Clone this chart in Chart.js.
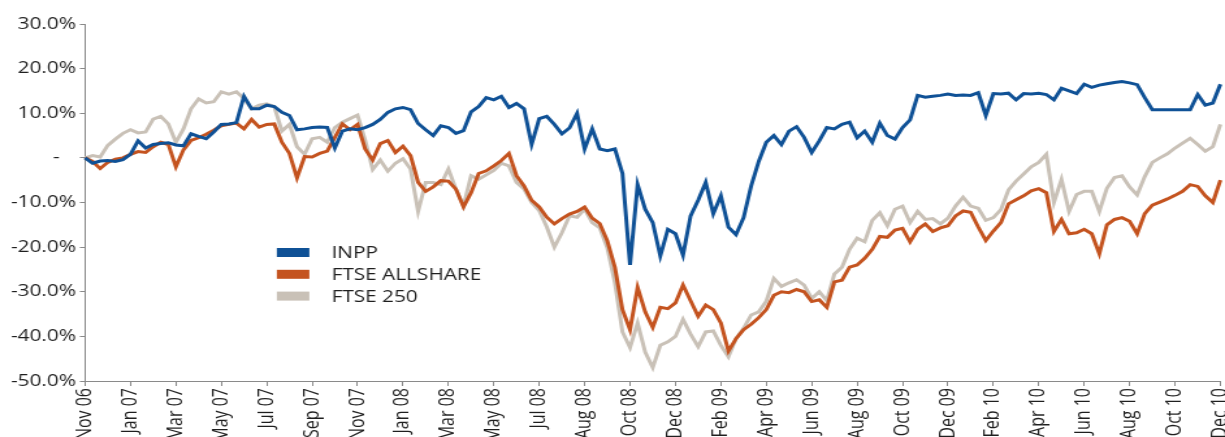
<!DOCTYPE html>
<html>
<head>
<meta charset="utf-8">
<title>INPP vs FTSE</title>
<script src="https://cdn.jsdelivr.net/npm/chart.js@4.4.1/dist/chart.umd.min.js"></script>
<style>
  html, body { margin: 0; padding: 0; background: #fff; overflow: hidden; }
  /* the chart is laid out narrow and stretched sideways to the full width */
  #wrap { width: 942px; height: 437px; transform: scaleX(1.3004); transform-origin: 0 0; }
</style>
</head>
<body>
<div id="wrap"><canvas id="grafico"></canvas></div>
<script>
// tick labels along the x axis, one every `pontosPorTick` points
const tickLabels = ['Nov 06', 'Jan 07', 'Mar 07', 'May 07', 'Jul 07', 'Sep 07', 'Nov 07', 'Jan 08',
    'Mar 08', 'May 08', 'Jul 08', 'Aug 08', 'Oct 08', 'Dec 08', 'Feb 09', 'Apr 09', 'Jun 09',
    'Aug 09', 'Oct 09', 'Dec 09', 'Feb 10', 'Apr 10', 'Jun 10', 'Aug 10', 'Oct 10', 'Dec 10'];
const pontosPorTick = 6;

const seriesNames = ['INPP', 'FTSE ALLSHARE', 'FTSE 250'];
const seriesColors = ['#0f5196', '#c4531f', '#c9c1b7'];

// cumulative return, %
const inpp = [
    0, -1.2, -0.7, -0.6, -0.8, -0.4, 0.8, 3.8, 2.2, 3.0, 3.2, 3.4,
    2.9, 2.7, 5.4, 4.8, 4.3, 5.8, 7.5, 7.6, 7.9, 13.8, 11.0, 11.0,
    11.8, 11.5, 10.2, 9.5, 6.3, 6.5, 6.8, 6.9, 6.8, 2.2, 6.0, 6.5,
    6.3, 6.8, 7.5, 8.6, 10.2, 11.0, 11.3, 10.8, 7.7, 6.3, 5.0, 7.2,
    6.8, 5.5, 6.1, 10.3, 11.5, 13.5, 13.0, 13.8, 11.3, 12.2, 11.0, 3.0,
    8.8, 9.3, 7.5, 5.4, 6.7, 10.0, 2.0, 6.5, 2.0, 1.6, 2.0, -3.5,
    -24.0, -6.0, -11.5, -14.5, -22.0, -16.0, -17.0, -21.8, -13.0, -9.5, -5.5, -12.5,
    -8.5, -15.5, -17.2, -13.4, -6.3, -0.8, 3.5, 5.0, 3.0, 6.0, 7.0, 4.6,
    1.2, 3.8, 6.8, 6.5, 7.5, 8.0, 4.5, 6.0, 3.5, 7.8, 5.0, 4.2,
    6.8, 8.5, 14.0, 13.6, 13.8, 14.0, 14.3, 14.0, 14.1, 14.0, 14.6, 9.5,
    14.4, 14.3, 14.5, 13.0, 14.4, 14.3, 14.5, 14.2, 13.0, 15.6, 15.0, 14.4,
    16.5, 15.8, 16.3, 16.6, 16.9, 17.1, 16.8, 16.4, 13.5, 10.8, 10.8, 10.8,
    10.8, 10.8, 10.8, 14.2, 11.8, 12.3, 16.5
];

const ftseAllShare = [
    0, -0.8, -2.4, -1.0, -0.3, 0.0, 0.8, 1.4, 1.2, 2.5, 3.5, 3.0,
    -2.0, 1.8, 3.9, 4.5, 5.3, 6.2, 7.2, 7.5, 7.8, 6.5, 8.6, 6.9,
    7.5, 7.6, 3.5, 1.0, -4.5, 0.3, 0.2, 1.0, 1.5, 4.6, 7.6, 6.3,
    7.5, 2.0, -0.5, 3.2, 3.9, 1.2, 2.6, 0.5, -5.5, -7.5, -6.5, -5.1,
    -5.2, -7.0, -11.0, -7.8, -3.5, -2.9, -1.8, -0.6, 1.0, -4.0, -6.3, -9.5,
    -11.0, -13.3, -14.8, -13.6, -12.6, -12.0, -11.0, -13.5, -14.7, -18.6, -24.5, -34.0,
    -38.5, -29.0, -34.5, -38.0, -33.5, -33.8, -32.5, -28.5, -32.0, -35.5, -33.0, -34.0,
    -37.0, -43.3, -40.5, -38.5, -37.3, -35.8, -34.0, -30.8, -30.0, -30.2, -29.5, -30.0,
    -32.2, -31.8, -33.5, -27.8, -27.4, -24.5, -24.0, -22.5, -20.5, -17.6, -17.8, -16.2,
    -15.8, -18.8, -16.0, -14.8, -16.5, -15.7, -15.2, -13.0, -11.9, -12.2, -15.5, -18.5,
    -16.4, -14.5, -10.3, -9.4, -8.5, -7.4, -6.9, -7.8, -16.5, -13.8, -17.0, -16.8,
    -16.0, -17.0, -21.5, -15.0, -13.8, -13.4, -14.2, -17.0, -12.5, -10.6, -9.9, -9.2,
    -8.4, -7.5, -6.0, -6.4, -8.5, -10.0, -5.0
];

const ftse250 = [
    0, 0.5, 0.2, 2.8, 4.2, 5.5, 6.3, 5.6, 5.8, 8.7, 9.3, 7.6,
    3.5, 6.5, 11.0, 13.2, 12.3, 12.6, 14.8, 14.3, 14.8, 13.3, 11.0, 11.8,
    12.1, 11.5, 6.0, 7.5, 2.5, 0.8, 4.3, 4.6, 3.5, 6.8, 8.0, 8.8,
    9.6, 4.0, -2.6, -0.5, -3.0, -1.2, -0.2, -2.5, -12.0, -5.5, -5.5, -6.0,
    -2.5, -7.0, -10.8, -4.0, -4.8, -3.8, -2.8, -1.2, -1.8, -5.5, -7.0, -10.0,
    -11.8, -15.5, -20.0, -16.8, -13.0, -13.3, -11.5, -14.5, -15.7, -20.2, -28.0, -39.0,
    -42.5, -37.0, -43.5, -47.0, -42.0, -41.2, -40.0, -36.2, -39.5, -42.3, -39.0, -38.8,
    -42.0, -44.6, -40.5, -38.2, -35.2, -34.5, -32.1, -27.0, -28.8, -28.0, -27.3, -28.5,
    -31.5, -30.0, -32.0, -26.0, -24.5, -20.5, -18.0, -18.8, -14.0, -12.3, -15.2, -11.5,
    -10.8, -14.5, -12.0, -13.8, -13.6, -14.8, -13.5, -10.8, -8.8, -10.8, -11.3, -14.0,
    -13.4, -11.6, -7.2, -5.2, -3.6, -2.0, -1.0, 0.8, -10.0, -4.8, -12.0, -8.2,
    -7.5, -7.5, -12.0, -6.8, -4.4, -4.0, -6.5, -8.3, -4.2, -1.0, 0.0, 0.9,
    2.2, 3.3, 4.4, 3.0, 1.5, 2.5, 7.5
];

const yTicks = { min: -50, max: 30, step: 10 };

// one category per data point; only every sixth carries a date label
const labels = inpp.map((_, i) => (i % pontosPorTick === 0 ? tickLabels[i / pontosPorTick] : ''));

const corTexto = '#1f1f1f';
const corEixo = '#8a8a8a';

Chart.defaults.font.family = "'Open Sans', sans-serif";
Chart.defaults.font.size = 16;
Chart.defaults.color = corTexto;

// legend drawn inside the plot, below the lines on the left
const legendaInterna = {
    id: 'legendaInterna',
    afterDraw(chart) {
        const { ctx, chartArea } = chart;
        const x0 = chartArea.left + 147.5;
        let y = chartArea.top + 228.5;
        ctx.save();
        ctx.font = "16px 'Open Sans', sans-serif";
        ctx.textBaseline = 'middle';
        chart.data.datasets.forEach(ds => {
            ctx.fillStyle = ds.borderColor;
            ctx.fillRect(x0, y - 4.5, 25, 9);
            ctx.fillStyle = corTexto;
            ctx.fillText(ds.label, x0 + 42, y + 1);
            y += 21.8;
        });
        ctx.restore();
    }
};

const dados = [inpp, ftseAllShare, ftse250];

new Chart(document.getElementById('grafico'), {
    type: 'line',
    data: {
        labels: labels,
        datasets: dados.map((serie, k) => ({
            label: seriesNames[k],
            data: serie,
            borderColor: seriesColors[k],
            backgroundColor: seriesColors[k],
            borderWidth: 3,
            pointRadius: 0,
            tension: 0,
            fill: false
        }))
    },
    options: {
        responsive: true,
        maintainAspectRatio: false,
        animation: false,
        layout: { padding: { top: 24, left: 0, right: 0, bottom: 0 } },
        plugins: {
            legend: { display: false },
            tooltip: { enabled: false }
        },
        scales: {
            x: {
                grid: { display: true, drawOnChartArea: false, drawTicks: true, tickLength: 5, color: corEixo },
                border: { display: true, color: corEixo, width: 1 },
                ticks: {
                    autoSkip: false,
                    maxRotation: 90,
                    minRotation: 90,
                    padding: 2,
                    callback(v) {
                        const l = this.getLabelForValue(v);
                        return l ? l : null;
                    }
                },
                afterFit(scale) {
                    scale.height = 56;
                    scale.paddingLeft = 0;
                    scale.paddingRight = 3.5;
                }
            },
            y: {
                min: yTicks.min,
                max: yTicks.max,
                grid: { display: true, drawOnChartArea: false, drawTicks: true, tickLength: 4, color: corEixo },
                border: { display: true, color: corEixo, width: 1 },
                ticks: {
                    stepSize: yTicks.step,
                    padding: 3,
                    callback: v => (v === 0 ? '-   ' : v.toFixed(1) + '%')
                },
                afterFit(scale) {
                    scale.width = 65.4;
                }
            }
        }
    },
    plugins: [legendaInterna]
});
</script>
</body>
</html>
